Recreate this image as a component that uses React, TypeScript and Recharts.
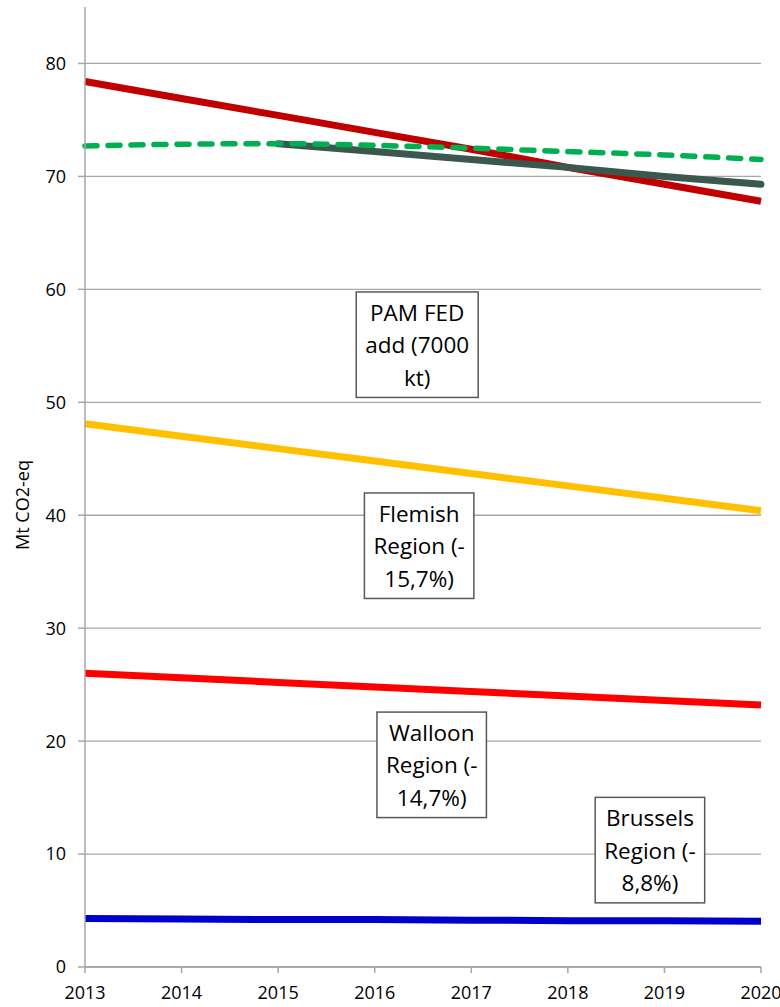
import {
  CartesianGrid,
  Label,
  Line,
  LineChart,
  ReferenceDot,
  XAxis,
  YAxis,
} from "recharts";

const years = [2013, 2014, 2015, 2016, 2017, 2018, 2019, 2020];
const targetPath = [78.4, 76.9, 75.4, 73.9, 72.4, 70.8, 69.3, 67.8];
const projection = [72.7, 72.85, 72.9, 72.75, 72.5, 72.2, 71.9, 71.5];
const withPamFed = [null, null, 72.9, 72.2, 71.5, 70.8, 70.0, 69.3];
const flemish = [48.1, 47.0, 45.9, 44.8, 43.7, 42.6, 41.5, 40.4];
const walloon = [26.0, 25.6, 25.2, 24.8, 24.4, 24.0, 23.6, 23.2];
const brussels = [4.3, 4.25, 4.2, 4.2, 4.15, 4.1, 4.1, 4.05];
const yTicks = [0, 10, 20, 30, 40, 50, 60, 70, 80];

const noteTexts = [
  ["PAM FED", "add (7000", "kt)"],
  ["Flemish", "Region (-", "15,7%)"],
  ["Walloon", "Region (-", "14,7%)"],
  ["Brussels", "Region (-", "8,8%)"],
];
// where each note box is centred, in chart units (year, Mt)
const notePlaces = [
  [2016.44, 55.1],
  [2016.46, 37.3],
  [2016.59, 17.9],
  [2018.85, 10.35],
];

const data = years.map((year, i) => ({
  year,
  targetPath: targetPath[i],
  projection: projection[i],
  withPamFed: withPamFed[i],
  flemish: flemish[i],
  walloon: walloon[i],
  brussels: brussels[i],
}));

const FONT = '"Open Sans", sans-serif';
const GRID = "#a6a6a6";
const NOTE_SIZE = 22.5;
const LINE_GAP = 32.5;

let ctx: CanvasRenderingContext2D | null = null;
const textWidth = (s: string) => {
  if (!ctx) ctx = document.createElement("canvas").getContext("2d");
  if (!ctx) return s.length * NOTE_SIZE * 0.55;
  ctx.font = `${NOTE_SIZE}px "Open Sans"`;
  return ctx.measureText(s).width;
};

function NoteBox({ cx, cy, lines }: { cx: number; cy: number; lines: string[] }) {
  const w = Math.max(...lines.map(textWidth)) + 18;
  const h = lines.length * LINE_GAP + 8;
  return (
    <g>
      <rect
        x={cx - w / 2}
        y={cy - h / 2}
        width={w}
        height={h}
        fill="#fff"
        stroke="#595959"
        strokeWidth={1.5}
      />
      {lines.map((t, i) => (
        <text
          key={t}
          x={cx}
          y={cy + (i - (lines.length - 1) / 2) * LINE_GAP}
          textAnchor="middle"
          dominantBaseline="central"
          fontFamily={FONT}
          fontSize={NOTE_SIZE}
          fill="#000"
        >
          {t}
        </text>
      ))}
    </g>
  );
}

const YTitle = (props: any) => {
  const vb = props.viewBox;
  const x = vb.x + 22;
  const y = vb.y + vb.height / 2 + 18;
  return (
    <text
      x={x}
      y={y}
      transform={`rotate(-90, ${x}, ${y})`}
      textAnchor="middle"
      dominantBaseline="central"
      fontFamily={FONT}
      fontSize={18}
      fill="#000"
    >
      Mt CO2-eq
    </text>
  );
};

export default function App() {
  const tick = { fill: "#000", fontSize: 18, fontFamily: FONT };
  return (
    <div style={{ position: "absolute", left: 0, top: 0, background: "#fff" }}>
      <LineChart
        width={780}
        height={1007}
        data={data}
        margin={{ top: 7, right: 19, left: 0, bottom: 0 }}
      >
        <CartesianGrid
          vertical={false}
          stroke={GRID}
          strokeWidth={1.3}
          horizontalValues={yTicks}
        />
        <XAxis
          dataKey="year"
          type="number"
          domain={[2013, 2020]}
          ticks={years}
          height={40}
          tick={tick}
          tickSize={6}
          tickMargin={13}
          stroke={GRID}
          strokeWidth={1.5}
          interval={0}
        />
        <YAxis
          type="number"
          domain={[0, 85]}
          ticks={yTicks}
          width={85}
          tick={tick}
          tickSize={7}
          tickMargin={12}
          stroke={GRID}
          strokeWidth={1.5}
          interval={0}
        >
          <Label content={YTitle} />
        </YAxis>
        <Line
          dataKey="targetPath"
          stroke="#c00000"
          strokeWidth={7}
          dot={false}
          isAnimationActive={false}
        />
        <Line
          dataKey="withPamFed"
          stroke="#3a584e"
          strokeWidth={7}
          strokeLinecap="round"
          dot={false}
          isAnimationActive={false}
        />
        <Line
          type="monotone"
          dataKey="projection"
          stroke="#00b050"
          strokeWidth={5.5}
          strokeDasharray="12 11"
          strokeLinecap="round"
          dot={false}
          isAnimationActive={false}
        />
        <Line
          dataKey="flemish"
          stroke="#ffc000"
          strokeWidth={7}
          dot={false}
          isAnimationActive={false}
        />
        <Line
          dataKey="walloon"
          stroke="#ff0000"
          strokeWidth={7}
          dot={false}
          isAnimationActive={false}
        />
        <Line
          dataKey="brussels"
          stroke="#0000cc"
          strokeWidth={7}
          dot={false}
          isAnimationActive={false}
        />
        {noteTexts.map((lines, i) => (
          <ReferenceDot
            key={lines[0]}
            x={notePlaces[i][0]}
            y={notePlaces[i][1]}
            r={0}
            ifOverflow="visible"
            shape={(p: any) => <NoteBox cx={p.cx} cy={p.cy} lines={lines} />}
          />
        ))}
      </LineChart>
    </div>
  );
}
